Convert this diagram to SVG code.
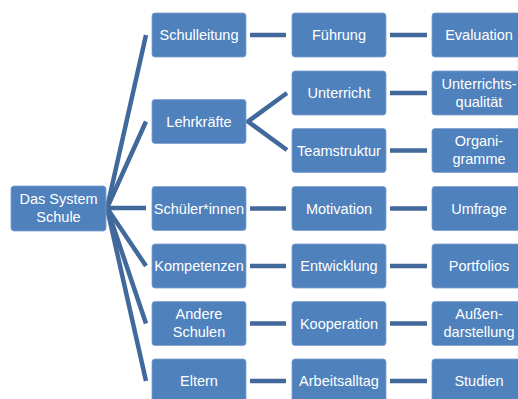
<svg xmlns="http://www.w3.org/2000/svg" width="518" height="399" viewBox="0 0 518 399">
  <style>
    .box { fill: #4f81bd; stroke: #7a9fcf; stroke-width: 0.8; }
    .lbl { fill: #ffffff; font-family: "Liberation Sans", Arial, sans-serif; font-size: 14.5px; text-anchor: middle; }
    .edge { stroke: #41699b; stroke-width: 4.5; fill: none; stroke-linecap: butt; }
  </style>
  <rect width="518" height="399" fill="#ffffff"/>

  <g id="connectors">
    <!-- root fan -->
    <line class="edge" x1="107" y1="208" x2="146" y2="35"/>
    <line class="edge" x1="107" y1="208" x2="146" y2="121.5"/>
    <line class="edge" x1="107" y1="208" x2="146" y2="208"/>
    <line class="edge" x1="107" y1="208" x2="146" y2="266"/>
    <line class="edge" x1="107" y1="208" x2="146" y2="323.5"/>
    <line class="edge" x1="107" y1="208" x2="146" y2="381"/>
    <!-- first to second column -->
    <line class="edge" x1="250" y1="35" x2="286" y2="35"/>
    <polyline class="edge" points="287,93 248,121.5 287,150"/>
    <line class="edge" x1="250" y1="208.5" x2="286" y2="208.5"/>
    <line class="edge" x1="250" y1="266" x2="286" y2="266"/>
    <line class="edge" x1="250" y1="323.5" x2="286" y2="323.5"/>
    <line class="edge" x1="250" y1="381" x2="286" y2="381"/>
    <!-- second to third column -->
    <line class="edge" x1="390" y1="35" x2="427" y2="35"/>
    <line class="edge" x1="390" y1="93" x2="427" y2="93"/>
    <line class="edge" x1="390" y1="150.5" x2="427" y2="150.5"/>
    <line class="edge" x1="390" y1="208.5" x2="427" y2="208.5"/>
    <line class="edge" x1="390" y1="266" x2="427" y2="266"/>
    <line class="edge" x1="390" y1="323.5" x2="427" y2="323.5"/>
    <line class="edge" x1="390" y1="381" x2="427" y2="381"/>
  </g>

  <g id="root">
    <rect class="box" x="11" y="186" width="95" height="45" rx="3"/>
    <text class="lbl" x="58.5" y="204">Das System</text>
    <text class="lbl" x="58.5" y="222">Schule</text>
  </g>

  <!-- first column -->
  <g id="schulleitung">
    <rect class="box" x="152" y="13" width="94" height="44" rx="3"/>
    <text class="lbl" x="199" y="40">Schulleitung</text>
  </g>
  <g id="lehrkraefte">
    <rect class="box" x="152" y="99.5" width="94" height="44" rx="3"/>
    <text class="lbl" x="199" y="126.5">Lehrkräfte</text>
  </g>
  <g id="schuelerinnen">
    <rect class="box" x="152" y="186.5" width="94" height="44" rx="3"/>
    <text class="lbl" x="199" y="213.5">Schüler*innen</text>
  </g>
  <g id="kompetenzen">
    <rect class="box" x="152" y="244" width="94" height="44" rx="3"/>
    <text class="lbl" x="199" y="271">Kompetenzen</text>
  </g>
  <g id="andere-schulen">
    <rect class="box" x="152" y="301.5" width="94" height="44" rx="3"/>
    <text class="lbl" x="199" y="319">Andere</text>
    <text class="lbl" x="199" y="337">Schulen</text>
  </g>
  <g id="eltern">
    <rect class="box" x="152" y="359" width="94" height="44" rx="3"/>
    <text class="lbl" x="199" y="386">Eltern</text>
  </g>

  <!-- second column -->
  <g id="fuehrung">
    <rect class="box" x="292" y="13" width="94" height="44" rx="3"/>
    <text class="lbl" x="339" y="40">Führung</text>
  </g>
  <g id="unterricht">
    <rect class="box" x="292" y="71" width="94" height="44" rx="3"/>
    <text class="lbl" x="339" y="98">Unterricht</text>
  </g>
  <g id="teamstruktur">
    <rect class="box" x="292" y="128.5" width="94" height="44" rx="3"/>
    <text class="lbl" x="339" y="155.5">Teamstruktur</text>
  </g>
  <g id="motivation">
    <rect class="box" x="292" y="186.5" width="94" height="44" rx="3"/>
    <text class="lbl" x="339" y="213.5">Motivation</text>
  </g>
  <g id="entwicklung">
    <rect class="box" x="292" y="244" width="94" height="44" rx="3"/>
    <text class="lbl" x="339" y="271">Entwicklung</text>
  </g>
  <g id="kooperation">
    <rect class="box" x="292" y="301.5" width="94" height="44" rx="3"/>
    <text class="lbl" x="339" y="328.5">Kooperation</text>
  </g>
  <g id="arbeitsalltag">
    <rect class="box" x="292" y="359" width="94" height="44" rx="3"/>
    <text class="lbl" x="339" y="386">Arbeitsalltag</text>
  </g>

  <!-- third column -->
  <g id="evaluation">
    <rect class="box" x="432" y="13" width="94" height="44" rx="3"/>
    <text class="lbl" x="479" y="40">Evaluation</text>
  </g>
  <g id="unterrichtsqualitaet">
    <rect class="box" x="432" y="71" width="94" height="44" rx="3"/>
    <text class="lbl" x="479" y="89">Unterrichts-</text>
    <text class="lbl" x="479" y="107">qualität</text>
  </g>
  <g id="organigramme">
    <rect class="box" x="432" y="128.5" width="94" height="44" rx="3"/>
    <text class="lbl" x="479" y="146">Organi-</text>
    <text class="lbl" x="479" y="164">gramme</text>
  </g>
  <g id="umfrage">
    <rect class="box" x="432" y="186.5" width="94" height="44" rx="3"/>
    <text class="lbl" x="479" y="213.5">Umfrage</text>
  </g>
  <g id="portfolios">
    <rect class="box" x="432" y="244" width="94" height="44" rx="3"/>
    <text class="lbl" x="479" y="271">Portfolios</text>
  </g>
  <g id="aussendarstellung">
    <rect class="box" x="432" y="301.5" width="94" height="44" rx="3"/>
    <text class="lbl" x="479" y="319">Außen-</text>
    <text class="lbl" x="479" y="337">darstellung</text>
  </g>
  <g id="studien">
    <rect class="box" x="432" y="359" width="94" height="44" rx="3"/>
    <text class="lbl" x="479" y="386">Studien</text>
  </g>
</svg>
